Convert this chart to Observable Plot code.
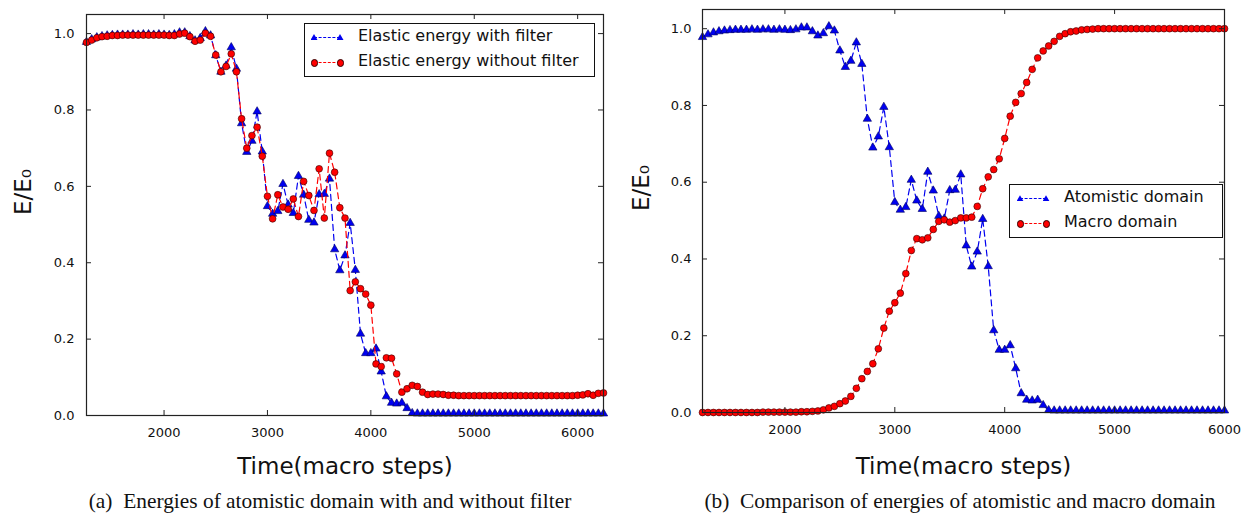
<!DOCTYPE html>
<html>
<head>
<meta charset="utf-8">
<script src="https://cdn.jsdelivr.net/npm/d3@7"></script>
<script src="https://cdn.jsdelivr.net/npm/@observablehq/plot@0.6"></script>
<style>
  html, body { margin: 0; padding: 0; background: #fff; }
  #fig { position: relative; width: 1256px; height: 516px; overflow: hidden; font-family: "DejaVu Sans", sans-serif; color: #111; }
  .panel { position: absolute; top: 0; }
  .cap { position: absolute; top: 490px; font-family: "Liberation Serif", "Times New Roman", serif; font-size: 21.4px; line-height: 22px; white-space: nowrap; color: #111; transform: translateX(-50%); }
  .lbox { position: absolute; border: 1.3px solid #111; background: #fff; box-sizing: border-box; }
  .ltext { position: absolute; font-size: 16px; line-height: 18.6px; white-space: nowrap; color: #111; }
  .sw { position: absolute; height: 0; width: 26px; border-top: 1.3px dashed; }
  .tri { position: absolute; width: 7px; height: 6px; clip-path: polygon(50% 0, 100% 100%, 0 100%); }
  .circ { position: absolute; width: 5.5px; height: 5.5px; border-radius: 50%; border: 0.7px solid #300; }
</style>
</head>
<body>
<div id="fig"></div>
<script>
// ---- data ----
const steps = [1250,1300,1350,1400,1450,1500,1550,1600,1650,1700,
  1750,1800,1850,1900,1950,2000,2050,2100,2150,2200,
  2250,2300,2350,2400,2450,2500,2550,2600,2650,2700,
  2750,2800,2850,2900,2950,3000,3050,3100,3150,3200,
  3250,3300,3350,3400,3450,3500,3550,3600,3650,3700,
  3750,3800,3850,3900,3950,4000,4050,4100,4150,4200,
  4250,4300,4350,4400,4450,4500,4550,4600,4650,4700,
  4750,4800,4850,4900,4950,5000,5050,5100,5150,5200,
  5250,5300,5350,5400,5450,5500,5550,5600,5650,5700,
  5750,5800,5850,5900,5950,6000,6050,6100,6150,6200,
  6250];

// Elastic energy with filter (= atomistic domain)
const withFilter = [0.978,0.985,0.990,0.993,0.995,0.996,0.997,0.997,0.997,0.998,
  0.997,0.998,0.998,0.997,0.998,0.997,0.996,0.998,1.003,1.003,
  0.993,0.982,0.988,1.006,0.995,0.943,0.900,0.916,0.964,0.908,
  0.765,0.690,0.719,0.796,0.691,0.548,0.528,0.535,0.606,0.552,
  0.530,0.627,0.578,0.512,0.505,0.579,0.580,0.620,0.435,0.380,
  0.419,0.504,0.381,0.214,0.163,0.163,0.175,0.115,0.050,0.033,
  0.031,0.033,0.019,0.006,0.005,0.005,0.005,0.005,0.005,0.005,
  0.005,0.005,0.005,0.005,0.005,0.005,0.005,0.005,0.005,0.005,
  0.005,0.005,0.005,0.005,0.005,0.005,0.005,0.005,0.005,0.005,
  0.005,0.005,0.005,0.005,0.005,0.005,0.005,0.005,0.005,0.005,
  0.005];

// Elastic energy without filter
const withoutFilter = [0.977,0.983,0.989,0.992,0.993,0.995,0.995,0.996,0.996,0.996,
  0.996,0.996,0.996,0.996,0.996,0.996,0.995,0.995,0.999,1.001,
  0.992,0.980,0.983,1.001,0.993,0.944,0.900,0.914,0.947,0.900,
  0.777,0.700,0.733,0.755,0.679,0.574,0.515,0.578,0.546,0.540,
  0.567,0.521,0.613,0.576,0.537,0.646,0.517,0.687,0.637,0.544,
  0.517,0.327,0.350,0.332,0.318,0.289,0.135,0.128,0.151,0.150,
  0.109,0.061,0.070,0.079,0.076,0.061,0.055,0.056,0.056,0.055,
  0.053,0.053,0.052,0.052,0.052,0.052,0.052,0.052,0.052,0.052,
  0.052,0.052,0.052,0.052,0.052,0.052,0.052,0.052,0.052,0.052,
  0.052,0.052,0.052,0.052,0.052,0.053,0.054,0.057,0.053,0.058,
  0.059];

// Macro domain (panel b, 1250..6000)
const macro = [0.000,0.000,0.000,0.000,0.000,0.000,0.000,0.000,0.000,0.000,
  0.000,0.001,0.001,0.001,0.001,0.001,0.001,0.001,0.002,0.002,
  0.003,0.004,0.007,0.012,0.016,0.023,0.030,0.042,0.063,0.088,
  0.107,0.127,0.166,0.220,0.264,0.286,0.311,0.362,0.422,0.453,
  0.450,0.455,0.477,0.498,0.502,0.496,0.500,0.507,0.507,0.509,
  0.537,0.583,0.614,0.633,0.661,0.714,0.772,0.808,0.831,0.860,
  0.894,0.924,0.942,0.955,0.967,0.980,0.987,0.992,0.994,0.997,
  0.998,0.999,1.000,1.000,1.000,1.000,1.000,1.000,1.000,1.000,
  1.000,1.000,1.000,1.000,1.000,1.000,1.000,1.000,1.000,1.000,
  1.000,1.000,1.000,1.000,1.000,1.000];

const xTicks = [2000, 3000, 4000, 5000, 6000];
const yTicks = [0.0, 0.2, 0.4, 0.6, 0.8, 1.0];
const xLabel = "Time(macro steps)";
const yLabel = "E/E\u2080";
const seriesA = ["Elastic energy with filter", "Elastic energy without filter"];
const seriesB = ["Atomistic domain", "Macro domain"];
const captions = ["(a)\u2002Energies of atomistic domain with and without filter",
                  "(b)\u2002Comparison of energies of atomistic and macro domain"];

// ---- tables ----
const nB = macro.length;
const tA1 = steps.map((t, i) => ({t, v: withFilter[i]}));
const tA2 = steps.map((t, i) => ({t, v: withoutFilter[i]}));
const tB1 = steps.slice(0, nB).map((t, i) => ({t, v: withFilter[i]}));
const tB2 = steps.slice(0, nB).map((t, i) => ({t, v: macro[i]}));

const BLUE = "#0000f0", RED = "#ff0000";

function panel({left, mL, mR, mT, mB, xDomain, s1, s2, labelDy, yDx, pad}) {
  const W = 628, H = 480;
  const fw = W - mL - mR, fh = H - mT - mB;
  const svg = Plot.plot({
    width: W, height: H,
    marginLeft: mL, marginRight: mR, marginTop: mT, marginBottom: mB,
    x: {domain: xDomain},
    y: {domain: [0, 1.05]},
    style: {fontFamily: "DejaVu Sans", fontSize: "13px", color: "#111", background: "transparent", overflow: "visible"},
    marks: [
      Plot.line(s1, {x: "t", y: "v", stroke: BLUE, strokeWidth: 1.2, strokeDasharray: "6,4"}),
      Plot.dot(s1, {x: "t", y: "v", symbol: "triangle", r: 3.1, fill: BLUE, stroke: "#000060", strokeWidth: 0.6}),
      Plot.line(s2, {x: "t", y: "v", stroke: RED, strokeWidth: 1.2, strokeDasharray: "6,4"}),
      Plot.dot(s2, {x: "t", y: "v", symbol: "circle", r: 3.4, fill: RED, stroke: "#300", strokeWidth: 0.6}),
      Plot.ruleX(xTicks, {x: d => d, stroke: "#222", insetTop: fh - 5}),
      Plot.ruleX(xTicks, {x: d => d, stroke: "#222", insetBottom: fh - 5}),
      Plot.ruleY(yTicks, {y: d => d, stroke: "#222", insetRight: fw - 5}),
      Plot.ruleY(yTicks, {y: d => d, stroke: "#222", insetLeft: fw - 5}),
      Plot.frame({stroke: "#222", strokeWidth: 1.2}),
      Plot.axisX({ticks: xTicks, tickSize: 0, tickPadding: 12, tickFormat: d3.format("d"), label: null, fontSize: 13}),
      Plot.axisY({ticks: yTicks, tickSize: 0, tickPadding: pad, tickFormat: d3.format(".1f"), label: null, fontSize: 13}),
      Plot.text([xLabel], {text: d => d, frameAnchor: "bottom", dy: labelDy, lineAnchor: "bottom", fontSize: 23, fill: "#111"}),
      Plot.text([yLabel], {text: d => d, frameAnchor: "left", dx: yDx, rotate: -90, lineAnchor: "middle", fontSize: 23, fill: "#111"})
    ]
  });
  svg.classList.add("panel");
  svg.style.left = left + "px";
  return svg;
}

const fig = document.getElementById("fig");
fig.appendChild(panel({left: 0, mL: 86, mR: 25, mT: 14, mB: 65, xDomain: [1250, 6250], s1: tA1, s2: tA2, labelDy: 58, yDx: -63, pad: 12}));
fig.appendChild(panel({left: 628, mL: 74, mR: 32, mT: 9, mB: 68, xDomain: [1250, 6000], s1: tB1, s2: tB2, labelDy: 61, yDx: -61, pad: 11}));

// captions
[[captions[0], 330], [captions[1], 960]].forEach(([txt, cx]) => {
  const d = document.createElement("div");
  d.className = "cap";
  d.style.left = cx + "px";
  d.textContent = txt;
  fig.appendChild(d);
});

// legends
function legend({bx, by, bw, bh, mx, tx, baselines, names}) {
  const box = document.createElement("div");
  box.className = "lbox";
  Object.assign(box.style, {left: bx + "px", top: by + "px", width: bw + "px", height: bh + "px"});
  fig.appendChild(box);
  names.forEach((name, i) => {
    const base = baselines[i];
    const cy = base - 4.6;
    const color = i === 0 ? BLUE : RED;
    const sw = document.createElement("div");
    sw.className = "sw";
    Object.assign(sw.style, {left: mx + "px", top: (cy - 0.65) + "px", borderTopColor: color});
    fig.appendChild(sw);
    [mx, mx + 26].forEach(px => {
      const m = document.createElement("div");
      if (i === 0) {
        m.className = "tri";
        Object.assign(m.style, {left: (px - 3.5) + "px", top: (cy - 3.5) + "px", background: color});
      } else {
        m.className = "circ";
        Object.assign(m.style, {left: (px - 3.4) + "px", top: (cy - 3.4) + "px", background: color});
      }
      fig.appendChild(m);
    });
    const t = document.createElement("div");
    t.className = "ltext";
    t.textContent = name;
    Object.assign(t.style, {left: tx + "px", top: (base - 14.85) + "px"});
    fig.appendChild(t);
  });
}
legend({bx: 304, by: 23, bw: 291, bh: 54, mx: 314, tx: 358, baselines: [42, 67.3], names: seriesA});
legend({bx: 1009, by: 184, bw: 214, bh: 54, mx: 1020, tx: 1064, baselines: [203.3, 228.3], names: seriesB});
</script>
</body>
</html>
